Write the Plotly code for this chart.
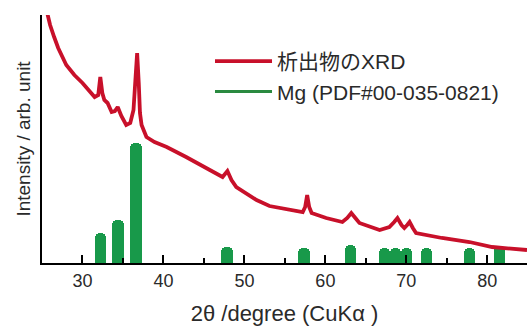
import plotly.graph_objects as go

# XRD pattern of precipitate (2theta in degrees, intensity in arbitrary units)
xrd_2theta = [25.5, 26.0, 26.5, 27.0, 28.0, 29.0, 30.0, 31.0, 31.5, 31.95, 32.2, 32.45, 32.7, 33.1, 33.6,
              34.0, 34.35, 34.8, 35.4, 35.9, 36.3, 36.55, 36.75, 36.95, 37.1, 37.3, 37.9, 38.9, 40.4,
              42.8, 45.3, 47.3, 47.9, 48.4, 49.0, 51.5, 53.1, 55.9, 57.2, 57.5, 57.75, 58.0, 58.3,
              60.1, 62.1, 62.7, 63.2, 63.7, 64.2, 66.7, 67.9, 68.5, 68.9, 69.4, 69.75, 70.1, 70.4,
              70.8, 71.2, 74.4, 77.8, 80.6, 84.9]
xrd_intensity = [255, 238, 226, 215, 198, 188, 180, 170, 166, 168, 186, 170, 163, 160, 151,
                 152, 156, 147, 138, 140, 153, 185, 210, 180, 150, 138, 126, 121, 116,
                 106, 95, 86, 92, 83, 76, 63, 57, 53, 51, 56, 68, 56, 50,
                 45, 41, 45, 50, 45, 40, 33, 36, 41, 45, 38, 35, 38, 41,
                 35, 30, 25, 21, 16, 13]

# Mg reference (PDF#00-035-0821) stick positions and relative heights
mg_2theta = [32.19, 34.40, 36.62, 47.83, 57.37, 63.06, 67.32, 68.63, 70.00, 72.50, 77.82, 81.54]
mg_intensity = [30, 43, 120, 16, 15, 18, 15, 15, 15, 15, 15, 17]

x_tickvals = [30, 40, 50, 60, 70, 80]

RED = "#c8102a"
GREEN = "#18994a"

fig = go.Figure()
fig.add_trace(go.Scatter(
    x=xrd_2theta, y=xrd_intensity, mode="lines",
    line=dict(color=RED, width=3.8),
    name="析出物のXRD",
))
fig.add_trace(go.Bar(
    x=mg_2theta, y=mg_intensity, width=1.4,
    marker=dict(color=GREEN, line=dict(width=0), cornerradius=5),
    name="Mg (PDF#00-035-0821)", legendgroup="mg", showlegend=False,
))
# legend entry for the Mg reference sticks (drawn as a line like the original)
fig.add_trace(go.Scatter(
    x=[None], y=[None], mode="lines",
    line=dict(color="#2a8a40", width=3),
    name="Mg (PDF#00-035-0821)", legendgroup="mg",
))

font_main = "Liberation Sans, Arial, Noto Sans CJK JP, sans-serif"

fig.update_layout(
    width=527, height=326,
    margin=dict(l=42, r=0, t=15, b=63),
    paper_bgcolor="white", plot_bgcolor="white",
    font=dict(family=font_main, size=18, color="#2a2a2a"),
    showlegend=True,
    legend=dict(
        x=0.3464, y=0.895, xanchor="left", yanchor="top",
        bgcolor="rgba(0,0,0,0)", itemwidth=57,
        font=dict(family="Liberation Sans, Noto Sans CJK JP, sans-serif", size=21, color="#2a2a2a"),
        tracegroupgap=0, traceorder="normal",
    ),
    xaxis=dict(
        range=[25, 84.9], showgrid=False, zeroline=False,
        showline=True, linecolor="black", linewidth=2,
        tickmode="array", tickvals=x_tickvals,
        ticks="inside", ticklen=8, tickwidth=2, tickcolor="black",
        minor=dict(dtick=5, tick0=25, ticks="inside", ticklen=5, tickwidth=2, tickcolor="black"),
        tickfont=dict(size=18, color="#2a2a2a"),
        title=dict(text="2θ /degree (CuKα )", font=dict(size=22, color="#2a2a2a"), standoff=28),
        automargin=False,
    ),
    yaxis=dict(
        range=[0, 248], showgrid=False, zeroline=False,
        showline=True, linecolor="black", linewidth=2,
        showticklabels=False, ticks="",
        title=dict(text="Intensity / arb. unit", font=dict(size=19, color="#2a2a2a"), standoff=4),
        automargin=False,
    ),
    bargap=0,
)

fig.write_html("out.html")
